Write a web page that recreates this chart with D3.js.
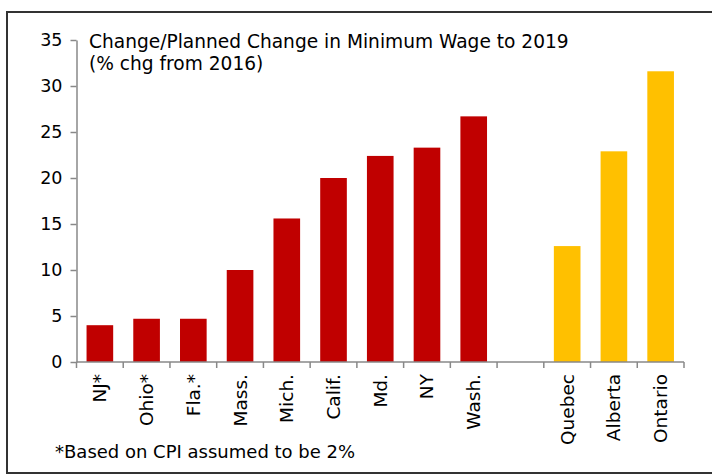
<!DOCTYPE html>
<html>
<head>
<meta charset="utf-8">
<script src="https://cdn.jsdelivr.net/npm/d3@7"></script>
<style>
  body { margin: 0; background: #fff; }
  svg { display: block; font-family: "DejaVu Sans", sans-serif; }
</style>
</head>
<body>
<div id="chart"></div>
<script>
// data
const categories = ['NJ*', 'Ohio*', 'Fla.*', 'Mass.', 'Mich.', 'Calif.', 'Md.', 'NY', 'Wash.', '', 'Quebec', 'Alberta', 'Ontario'];
const usValues = [4.0, 4.7, 4.7, 10.0, 15.6, 20.0, 22.4, 23.3, 26.7];
const canadaValues = [12.6, 22.9, 31.6];
const yTicks = [0, 5, 10, 15, 20, 25, 30, 35];
const titleLines = ['Change/Planned Change in Minimum Wage to 2019', '(% chg from 2016)'];
const footnote = '*Based on CPI assumed to be 2%';

const width = 712;
const height = 475;

const rows = [
  ...usValues.map((v, i) => ({ idx: i, value: v, color: '#c00000' })),
  ...canadaValues.map((v, i) => ({ idx: 10 + i, value: v, color: '#ffc000' })),
];

const svg = d3.select('#chart').append('svg')
  .attr('width', width)
  .attr('height', height);

svg.append('rect')
  .attr('x', 7)
  .attr('y', 12)
  .attr('width', 720)
  .attr('height', 461)
  .attr('fill', 'none')
  .attr('stroke', '#333')
  .attr('stroke-width', 2);

const x = d3.scaleBand()
  .domain(categories.map((c, i) => i))
  .range([76.5, 684])
  .paddingInner(0.43)
  .paddingOuter(0.215);

const slot = d3.scaleBand()
  .domain(categories.map((c, i) => i))
  .range([76.5, 684]);

const y = d3.scaleLinear()
  .domain([0, 35])
  .range([362, 40]);

const axisColor = '#888';

// y axis
const yAxis = svg.append('g')
  .attr('transform', 'translate(76.5,0)')
  .call(d3.axisLeft(y).tickValues(yTicks).tickSize(6).tickPadding(8).tickSizeOuter(0));
yAxis.select('.domain').attr('stroke', axisColor).attr('stroke-width', 1.5);
yAxis.selectAll('.tick line').attr('stroke', axisColor).attr('stroke-width', 1.5);
yAxis.selectAll('.tick text')
  .attr('font-size', 17.5)
  .attr('fill', '#000')
  .attr('font-family', '"DejaVu Sans", sans-serif');

// bars
svg.selectAll('.bar')
  .data(rows)
  .enter()
  .append('rect')
  .attr('class', 'bar')
  .attr('x', d => x(d.idx))
  .attr('y', d => y(d.value))
  .attr('width', x.bandwidth())
  .attr('height', d => y(0) - y(d.value))
  .attr('fill', d => d.color);

// x axis
const xg = svg.append('g');
xg.append('line')
  .attr('x1', slot.range()[0])
  .attr('x2', slot.range()[1])
  .attr('y1', y(0))
  .attr('y2', y(0))
  .attr('stroke', axisColor)
  .attr('stroke-width', 1.5);

const bounds = categories.map((c, i) => slot(i)).concat([slot.range()[1]]);
xg.selectAll('.xtick')
  .data(bounds)
  .enter()
  .append('line')
  .attr('x1', d => d)
  .attr('x2', d => d)
  .attr('y1', y(0))
  .attr('y2', y(0) + 6)
  .attr('stroke', axisColor)
  .attr('stroke-width', 1.5);

xg.selectAll('.xlab')
  .data(categories.map((c, i) => ({ c, i })).filter(d => d.c))
  .enter()
  .append('text')
  .attr('transform', d => `translate(${x(d.i) + x.bandwidth() / 2},374) rotate(-90)`)
  .attr('text-anchor', 'end')
  .attr('dominant-baseline', 'central')
  .attr('font-size', 18.5)
  .text(d => d.c);

// inner title
svg.selectAll('.ttl')
  .data(titleLines)
  .enter()
  .append('text')
  .attr('x', 89)
  .attr('y', (d, i) => 48 + i * 21.5)
  .attr('font-size', 18.6)
  .text(d => d);

svg.append('text')
  .attr('x', 55)
  .attr('y', 458)
  .attr('font-size', 18)
  .text(footnote);
</script>
</body>
</html>
